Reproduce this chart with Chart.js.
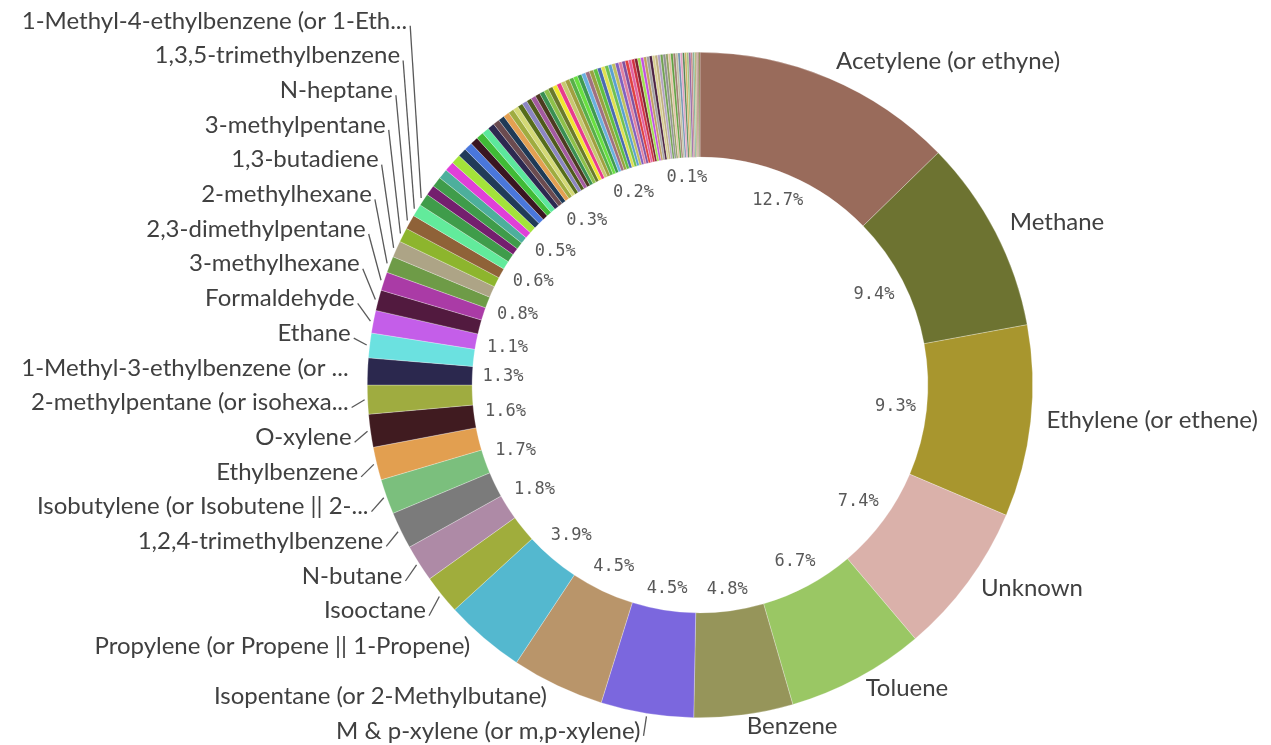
<!DOCTYPE html>
<html>
<head>
<meta charset="utf-8">
<script src="https://cdn.jsdelivr.net/npm/chart.js@4.4.1/dist/chart.umd.min.js"></script>
<style>
  html, body { margin: 0; padding: 0; background: #fff; }
  #wrap { width: 1271px; height: 745px; }
</style>
</head>
<body>
<div id="wrap"><canvas id="chart" width="1271" height="745"></canvas></div>
<script>
// compounds, largest first, share of total (%)
var compounds = [
  'Acetylene (or ethyne)', 'Methane', 'Ethylene (or ethene)', 'Unknown', 'Toluene', 'Benzene',
  'M & p-xylene (or m,p-xylene)', 'Isopentane (or 2-Methylbutane)', 'Propylene (or Propene || 1-Propene)',
  'Isooctane', 'N-butane', '1,2,4-trimethylbenzene', 'Isobutylene (or Isobutene || 2-Methylpropene)',
  'Ethylbenzene', 'O-xylene', '2-methylpentane (or isohexane)',
  '1-Methyl-3-ethylbenzene (or 1-Ethyl-3-methylbenzene)', 'Ethane', 'Formaldehyde', '3-methylhexane',
  '2,3-dimethylpentane', '2-methylhexane', '1,3-butadiene', '3-methylpentane', 'N-heptane',
  '1,3,5-trimethylbenzene', '1-Methyl-4-ethylbenzene (or 1-Ethyl-4-methylbenzene)',
  // small ones, no room for a label
  'Propane', 'N-pentane', 'N-hexane', 'Isoprene', '1-butene', 'Trans-2-butene', 'Cis-2-butene',
  '1-pentene', 'Trans-2-pentene', 'Cis-2-pentene', '2,2-dimethylbutane', 'Cyclopentane',
  '2,3-dimethylbutane', 'Methylcyclopentane', '2,4-dimethylpentane', 'Cyclohexane',
  'N-octane', 'Styrene', 'Isopropylbenzene', 'N-propylbenzene', '1,2,3-trimethylbenzene', 'N-nonane',
  'N-decane', 'N-undecane', 'N-dodecane', 'Acetaldehyde', 'Acetone', '1-hexene', 'Methylcyclohexane',
  '2,3,4-trimethylpentane', '2-methylheptane', '3-methylheptane', '1-Methyl-2-ethylbenzene',
  'M-diethylbenzene', 'P-diethylbenzene', 'Propionaldehyde', 'Butyraldehyde', 'Benzaldehyde',
  'Methyl ethyl ketone', 'Crotonaldehyde', 'Methacrolein', 'Acrolein', 'Valeraldehyde', 'Hexaldehyde',
  'Tolualdehyde', '2-methyl-1-pentene', '4-methyl-1-pentene', 'Cyclopentene', 'Naphthalene',
  'Methanol', 'Ethanol', 'Isopropanol', 'Methyl tert-butyl ether', 'Dichloromethane', 'Chloroform',
  'Trichloroethylene', 'Tetrachloroethylene', 'Chloromethane', 'Vinyl chloride', '1,2-dichloroethane',
  'Acrylonitrile', 'N-butylbenzene', 'Sec-butylbenzene', 'Indane', '2,2-dimethylpentane',
  '3,3-dimethylpentane', 'Ethylcyclohexane', 'Alpha-pinene', 'Beta-pinene', 'Limonene'
];

var shares = [
  12.7, 9.4, 9.3, 7.4, 6.7, 4.8, 4.5, 4.5, 3.9,
  1.9, 1.8, 1.8, 1.7, 1.6, 1.6, 1.4, 1.3, 1.2, 1.1, 1.0, 0.9, 0.8, 0.8, 0.7, 0.7, 0.6, 0.6,
  0.5, 0.5, 0.48, 0.47, 0.46, 0.42, 0.4, 0.38, 0.36, 0.35, 0.33, 0.31, 0.3, 0.29, 0.27, 0.26,
  0.25, 0.25, 0.24, 0.24, 0.24, 0.23, 0.23, 0.23, 0.22, 0.22, 0.22, 0.22, 0.21, 0.21, 0.21,
  0.2, 0.2, 0.2, 0.2, 0.19,
  0.18, 0.18, 0.17, 0.17, 0.17, 0.16, 0.16, 0.16, 0.15, 0.15, 0.15, 0.15, 0.14, 0.14, 0.14, 0.14,
  0.13, 0.13, 0.13, 0.13, 0.13, 0.12, 0.12, 0.12, 0.12, 0.11, 0.11, 0.11, 0.1, 0.1, 0.1, 0.1,
  0.09, 0.09, 0.08, 0.07, 0.06, 0.05
];

var colours = [
  '#996b5b', '#6d7331', '#a8962e', '#dab1aa', '#9ac764', '#96955a', '#7b67de', '#b9956a', '#54b8cf',
  '#a0ad3c', '#ae8aa6', '#7b7b7b', '#7bbf7d', '#e29f50', '#401b20', '#9fac40', '#2b284e', '#6be1e0',
  '#c45ee9', '#521a3f', '#aa3ba6', '#6e9b47', '#ada486', '#8db52d', '#8f6238', '#62eb9b', '#3f9c4a',
  '#741f6e', '#3f9c4a', '#4daf9c', '#e03fd8', '#a3e33a', '#213b58', '#4a77dc', '#3a1621', '#40bb36',
  '#5ce89c', '#2c2950', '#6b4b50', '#1f3a56', '#e3a052', '#9fac40', '#d4d976',
  '#566d1a', '#8c86c2', '#4e5a1b', '#a35aa0', '#4c3a20', '#3a8f52', '#8ec14a', '#6a7a2c', '#f0e82e',
  '#e83b8c', '#c8c870', '#a0a040', '#58b048', '#68e040', '#3e9a4e', '#6ab0e0', '#a07080', '#98a040',
  '#60c040', '#4a6ab0',
  '#e0e050', '#70c050', '#5aa0d0', '#c0c060', '#8060c0', '#e080a0', '#8050a0', '#e04040', '#e060a0',
  '#d03040', '#802030', '#a0e050', '#c050e0', '#c0a060', '#a0a0a0', '#4a2040', '#d8d090', '#c0b080',
  '#b0a0c0', '#70a050', '#909090', '#90a060', '#e0c0a0', '#60a040', '#a08070', '#c0c0a0', '#7090b0',
  '#e0a0c0', '#508050', '#d0b060', '#a0c080', '#9060a0', '#c08080', '#80b090', '#b0b070', '#b08070'
];

var minLabelPct = 0.55;   // slices below this get no outside name
var labelGap = 34.7;      // vertical step between stacked names

function fitText(ctx, text, maxW) {
  if (ctx.measureText(text).width <= maxW) return text;
  while (text.length > 1 && ctx.measureText(text + '...').width > maxW) {
    text = text.slice(0, -1);
  }
  return text + '...';
}

// push names apart so they don't sit on top of each other,
// starting from the one nearest the horizontal
function spread(items, cy) {
  if (!items.length) return;
  items.sort(function(a, b) { return a.ny - b.ny; });
  var anchor = 0;
  items.forEach(function(it, k) {
    if (Math.abs(it.my - cy) < Math.abs(items[anchor].my - cy)) anchor = k;
  });
  items[anchor].y = items[anchor].ny;
  for (var k = anchor - 1; k >= 0; k--) {
    items[k].y = Math.min(items[k].ny, items[k + 1].y - labelGap);
  }
  for (k = anchor + 1; k < items.length; k++) {
    items[k].y = Math.max(items[k].ny, items[k - 1].y + labelGap);
  }
}

function drawInner(ctx, arcs, total) {
  ctx.font = '17px "DejaVu Sans Mono"';
  ctx.fillStyle = '#595959';
  ctx.textAlign = 'center';
  ctx.textBaseline = 'middle';
  var placed = [];
  arcs.forEach(function(arc, i) {
    var text = (shares[i] / total * 100).toFixed(1) + '%';
    var w = ctx.measureText(text).width;
    var h = 17;
    var a = (arc.startAngle + arc.endAngle) / 2;
    var c = Math.cos(a), s = Math.sin(a);
    var d = arc.innerRadius - 10 - (w / 2 * Math.abs(c) + h / 2 * Math.abs(s));
    var x = arc.x + d * c, y = arc.y + d * s;
    var hit = placed.some(function(p) {
      return Math.abs(p.x - x) < (p.w + w) / 2 + 12 && Math.abs(p.y - y) < 28;
    });
    if (hit) return;
    placed.push({ x: x, y: y, w: w });
    ctx.fillText(text, x, y);
  });
}

function drawOuter(ctx, arcs, total, chart) {
  ctx.font = '24px Lato';
  ctx.textBaseline = 'middle';
  var left = [], right = [];
  arcs.forEach(function(arc, i) {
    if (shares[i] / total * 100 < minLabelPct) return;
    var a = (arc.startAngle + arc.endAngle) / 2;
    var c = Math.cos(a), s = Math.sin(a);
    var r = arc.outerRadius + 15;
    var it = { i: i, arc: arc, c: c, s: s, x: arc.x + r * c, my: arc.y + r * s };
    it.ny = it.my - 3;
    (c < 0 ? left : right).push(it);
  });
  spread(left, arcs[0].y);
  spread(right, arcs[0].y);

  ctx.strokeStyle = '#595959';
  ctx.lineWidth = 1.3;
  ctx.fillStyle = '#404040';

  left.forEach(function(it) {
    var xe = it.x - 4;
    ctx.textAlign = 'right';
    ctx.fillText(fitText(ctx, compounds[it.i], xe - 18), xe, it.y);
    if (Math.abs(it.y - it.ny) > 3) {
      var r = it.arc.outerRadius + 3;
      ctx.beginPath();
      ctx.moveTo(xe + 3, it.y + 5);
      ctx.lineTo(it.arc.x + r * it.c, it.arc.y + r * it.s);
      ctx.stroke();
    }
  });
  right.forEach(function(it) {
    var xs = it.x + 1;
    ctx.textAlign = 'left';
    ctx.fillText(fitText(ctx, compounds[it.i], chart.width - 8 - xs), xs, it.y);
    if (Math.abs(it.y - it.ny) > 3) {
      var r = it.arc.outerRadius + 3;
      ctx.beginPath();
      ctx.moveTo(xs - 3, it.y + 5);
      ctx.lineTo(it.arc.x + r * it.c, it.arc.y + r * it.s);
      ctx.stroke();
    }
  });
}

var sliceLabels = {
  id: 'sliceLabels',
  afterDatasetsDraw: function(chart) {
    var ctx = chart.ctx;
    var arcs = chart.getDatasetMeta(0).data;
    var total = shares.reduce(function(a, b) { return a + b; }, 0);
    ctx.save();
    drawInner(ctx, arcs, total);
    drawOuter(ctx, arcs, total, chart);
    ctx.restore();
  }
};

var chart = new Chart(document.getElementById('chart'), {
  type: 'doughnut',
  data: {
    labels: compounds,
    datasets: [{
      data: shares,
      backgroundColor: colours,
      borderColor: 'rgba(255, 255, 255, 0.45)',
      borderWidth: 0.6
    }]
  },
  options: {
    responsive: false,
    animation: false,
    cutout: '68.5%',
    layout: { padding: { top: 52, bottom: 27, left: 367, right: 238 } },
    plugins: {
      legend: { display: false },
      tooltip: { enabled: false }
    }
  },
  plugins: [sliceLabels]
});
</script>
</body>
</html>
